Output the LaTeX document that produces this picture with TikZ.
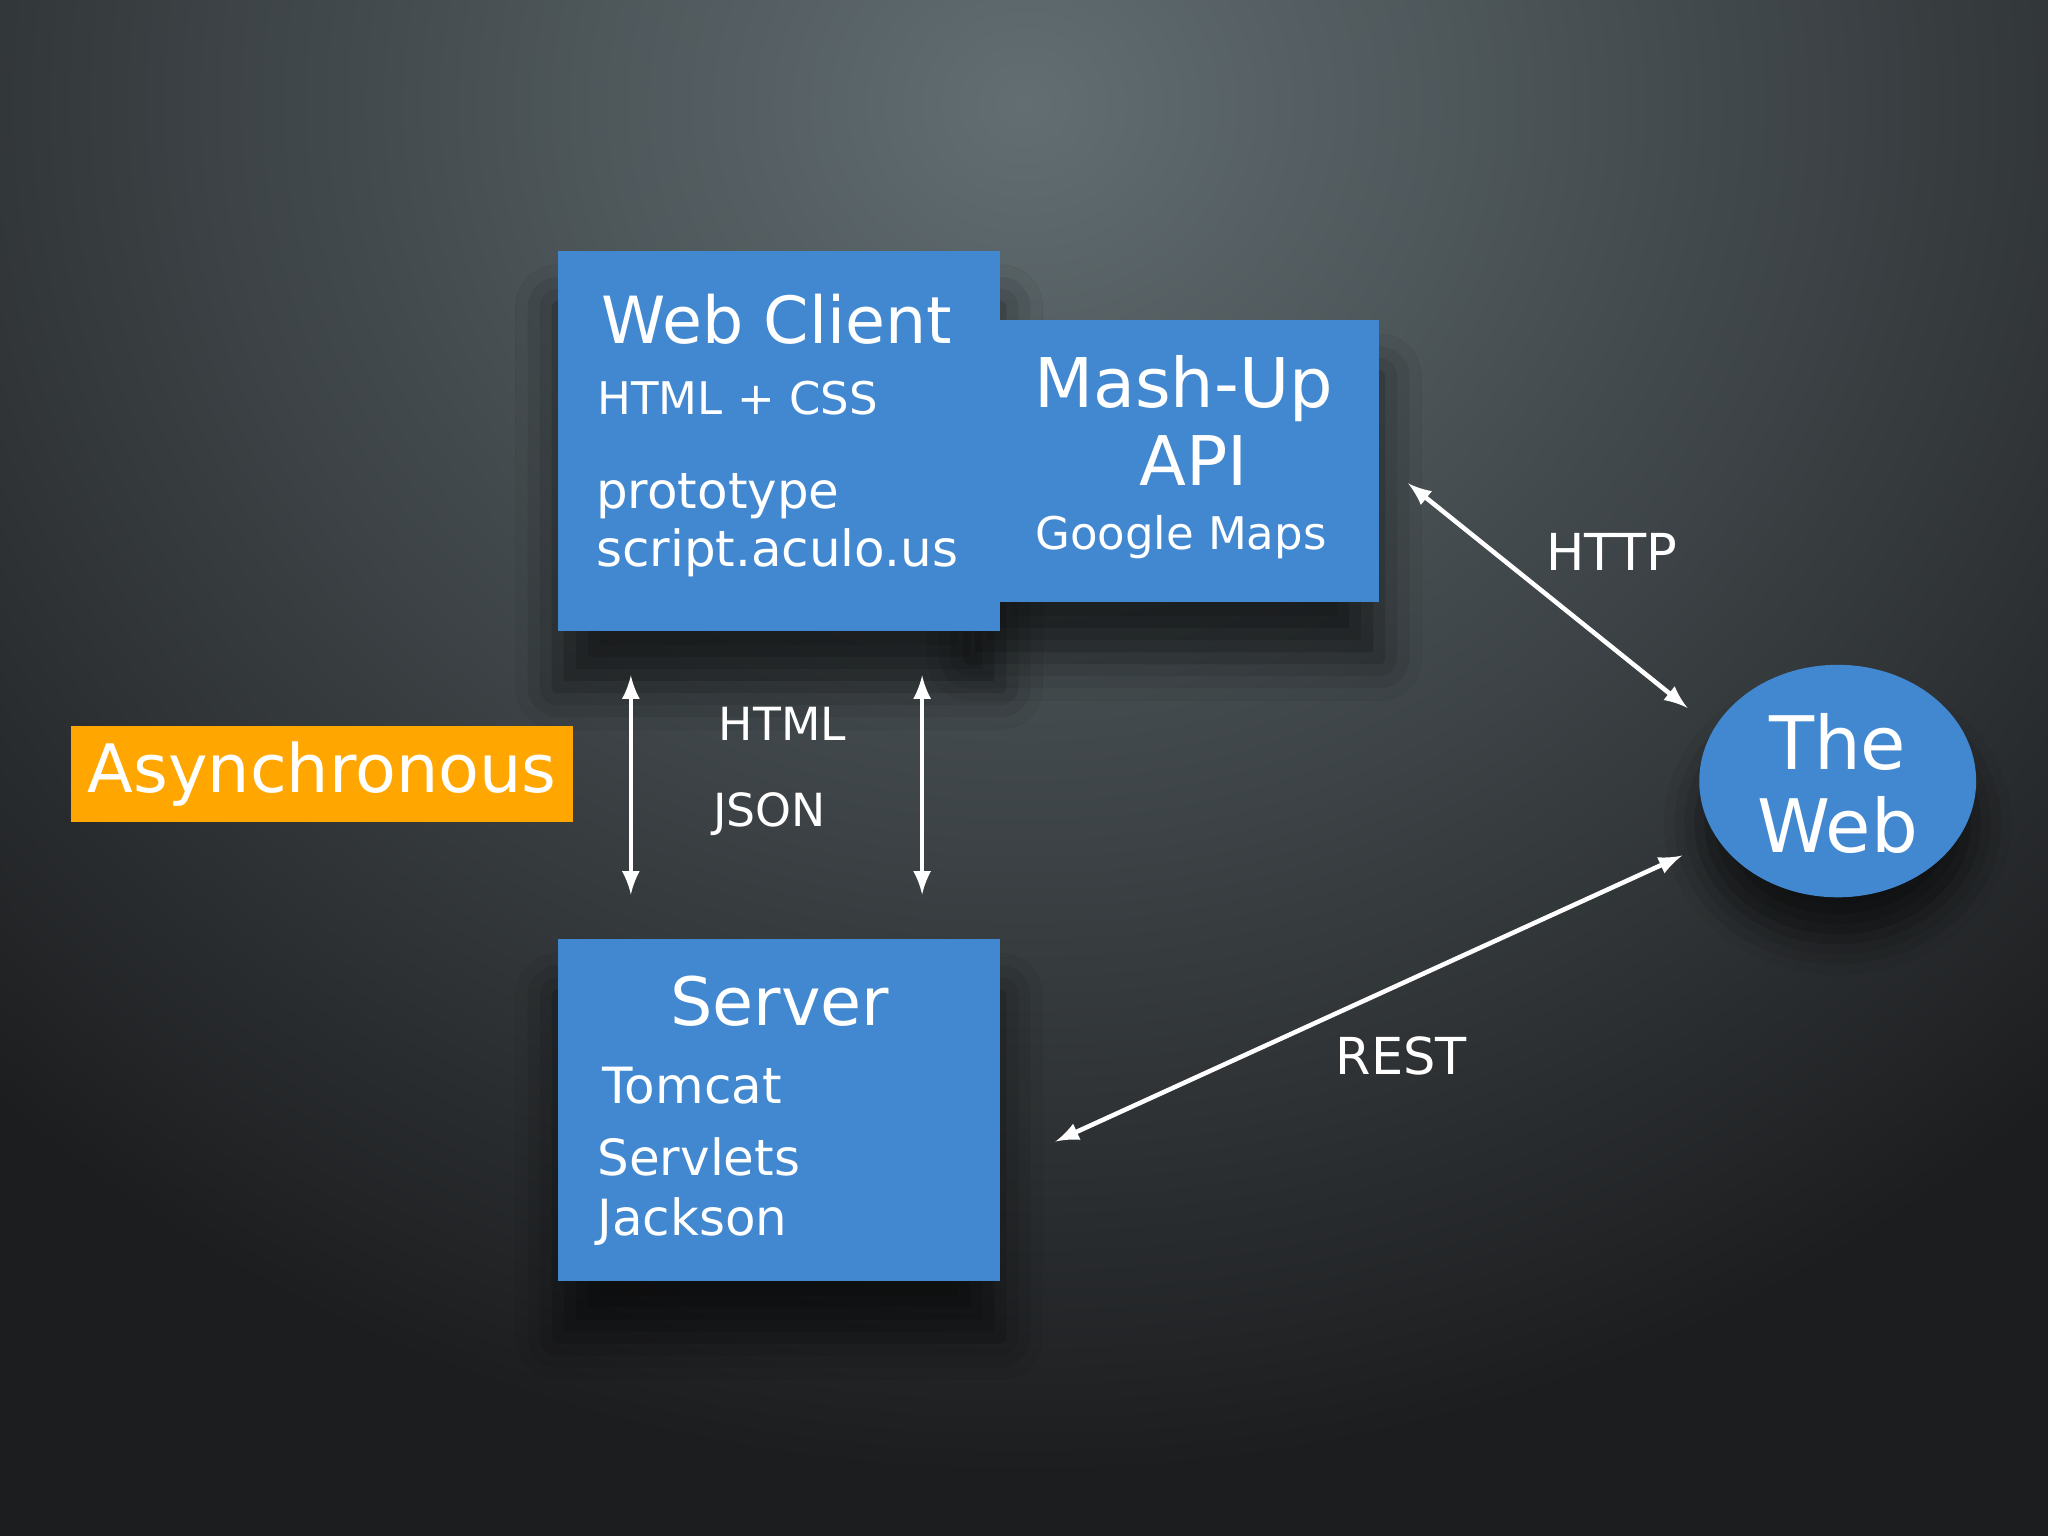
\documentclass[tikz,border=0pt]{standalone}
\usepackage{fontspec}
\setmainfont{DejaVu Sans}
\usetikzlibrary{shadows.blur,shapes.geometric}
\definecolor{boxblue}{RGB}{66,136,208}
\definecolor{orng}{RGB}{255,166,0}
\definecolor{bgout}{RGB}{28,29,31}
\begin{document}
\begin{tikzpicture}[x=0.013061cm,y=-0.013061cm,
  shad/.style={blur shadow={shadow xshift=0pt,shadow yshift=-16pt,shadow blur radius=12pt,shadow opacity=60}},
  box/.style={fill=boxblue,draw=none},
  txt/.style={text=white,inner sep=0pt,anchor=base west},
  arr/.style={draw=white,line width=1.3pt,<->,>={latex}},
  lab/.style={text=white,inner sep=0pt,anchor=base,font=\fontsize{14.5}{18}\selectfont}]
\useasboundingbox (0,0) rectangle (1568,1176);
\clip (0,0) rectangle (1568,1176);
\fill[bgout] (0,0) rectangle (1568,1176);
\shade[inner color={rgb,255:red,98;green,110;blue,114}, outer color=bgout] (784,80) ellipse (1150 and 1050);
\path[shad] (427,192) rectangle (766,483);
\path[shad] (742,245) rectangle (1056,461);
\path[shad] (427,719) rectangle (766,981);
\path[box] (427,192) rectangle (766,483);
\path[box] (742,245) rectangle (1056,461);
\path[box] (427,719) rectangle (766,981);
\node[fill=orng,minimum width=385*0.013061cm,minimum height=73*0.013061cm,inner sep=0pt,text=white,font=\fontsize{19}{24}\selectfont] (async) at (246.5,592.5) {Asynchronous};
\node[ellipse,fill=boxblue,minimum width=212*0.013061cm,minimum height=178*0.013061cm,blur shadow={shadow xshift=0pt,shadow yshift=-12pt,shadow blur radius=10pt,shadow opacity=60}] (web) at (1407,598) {};
\node[txt,font=\fontsize{18.5}{24}\selectfont] (wc) at (460,263) {Web Client};
\node[txt,font=\fontsize{12.8}{16}\selectfont] (hc) at (457,317) {HTML + CSS};
\node[txt,font=\fontsize{14.2}{18}\selectfont] (pr) at (456,389) {prototype};
\node[txt,font=\fontsize{14.2}{18}\selectfont] (sc) at (456,434) {script.aculo.us};
\node[text=white,inner sep=0pt,anchor=base,font=\fontsize{19.5}{24}\selectfont] (mu) at (906,312) {Mash-Up};
\node[text=white,inner sep=0pt,anchor=base,font=\fontsize{19.5}{24}\selectfont] (api) at (914,372) {API};
\node[txt,font=\fontsize{12.8}{16}\selectfont] (gm) at (792,421) {Google Maps};
\node[text=white,inner sep=0pt,anchor=base,font=\fontsize{19}{24}\selectfont] (sv) at (597,785) {Server};
\node[txt,font=\fontsize{14.2}{18}\selectfont] (tc) at (461,845) {Tomcat};
\node[txt,font=\fontsize{14.2}{18}\selectfont] (sl) at (457,900) {Servlets};
\node[txt,font=\fontsize{14.2}{18}\selectfont] (jk) at (457,946) {Jackson};
\node[text=white,inner sep=0pt,anchor=base,font=\fontsize{21}{26}\selectfont] (the) at (1407,589) {The};
\node[text=white,inner sep=0pt,anchor=base,font=\fontsize{21}{26}\selectfont] (webt) at (1407,653) {Web};
\coordinate (a1) at (483,517); \coordinate (a2) at (483,685);
\coordinate (b1) at (706,517); \coordinate (b2) at (706,685);
\coordinate (h1) at (1078,370); \coordinate (h2) at (1292,542);
\coordinate (r1) at (808,874); \coordinate (r2) at (1288,655);
\draw[arr] (a1) -- (a2);
\draw[arr] (b1) -- (b2);
\draw[arr] (h1) -- (h2);
\draw[arr] (r1) -- (r2);
\node[lab] (lhttp) at (1234,437) {HTTP};
\node[lab] (lrest) at (1073,823) {REST};
\node[lab,font=\fontsize{13}{16}\selectfont] (lhtml) at (599,567) {HTML};
\node[lab,font=\fontsize{13}{16}\selectfont] (ljson) at (589,633) {JSON};
\end{tikzpicture}
\end{document}
